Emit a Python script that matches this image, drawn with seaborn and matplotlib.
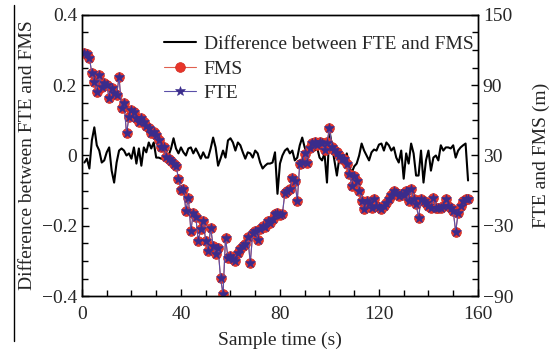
import numpy as np
import pandas as pd
import matplotlib
matplotlib.use("Agg")
import matplotlib.pyplot as plt
from matplotlib.ticker import MultipleLocator
import seaborn as sns

# sample time (s)
sample_time = list(range(1, 157))

# FMS (m), right axis
fms = [117.4, 116.6, 113.1, 100.3, 92.6, 84.0, 98.6, 88.3, 91.7, 90.0,
       78.9, 87.4, 83.1, 81.4, 96.9, 70.3, 74.6, 48.9, 62.6, 68.6,
       66.9, 61.7, 58.3, 61.7, 58.3, 54.9, 53.1, 48.9, 49.7, 47.1,
       42.9, 36.9, 36.9, 28.3, 27.4, 25.7, 23.1, 21.4, 10.3, 0.9,
       1.7, -17.1, -6.0, -34.3, -18.9, -22.3, -42.9, -32.6, -25.7, -42.9,
       -51.4, -31.7, -47.1, -54.0, -48.9, -74.6, -88.3, -40.3, -57.4, -55.7,
       -58.3, -60.0, -53.1, -49.7, -47.1, -45.4, -39.4, -61.7, -36.0, -34.3,
       -42.0, -32.6, -30.0, -30.9, -25.7, -27.4, -24.0, -19.7, -18.9, -20.6,
       -19.7, -1.7, 0.0, 1.7, 11.1, 8.6, -8.6, 23.1, 24.0, 31.7,
       24.0, 36.0, 40.3, 41.1, 38.6, 41.1, 40.3, 34.3, 41.1, 53.1,
       36.9, 34.3, 32.6, 30.0, 27.4, 27.4, 23.1, 14.6, 4.3, 12.9,
       8.6, 0.0, -8.6, -15.4, -8.6, -10.3, -14.6, -6.9, -12.9, -13.7,
       -15.4, -12.9, -10.3, -6.9, -3.4, 0.0, -1.7, -4.3, -2.6, -3.4,
       0.0, -8.6, 1.7, -6.9, -11.1, -23.1, -6.9, -8.6, -10.3, -12.9,
       -14.6, -6.0, -14.6, -14.6, -14.6, -12.9, -6.9, -12.9, -14.6, -17.1,
       -35.1, -18.9, -12.9, -8.6, -6.9, -6.9]

# difference between FTE and FMS, left axis
diff = [-0.020, -0.009, -0.037, 0.043, 0.080, 0.029, 0.014, -0.020, -0.014, 0.009,
        0.023, -0.043, -0.077, -0.020, 0.014, 0.020, 0.014, 0.000, 0.006, -0.009,
        0.023, -0.023, 0.020, -0.029, 0.023, 0.009, 0.037, 0.020, 0.037, -0.006,
        -0.006, -0.009, -0.009, -0.009, 0.000, 0.020, 0.049, 0.020, 0.006, 0.023,
        0.009, 0.000, 0.020, 0.023, 0.006, 0.020, 0.006, -0.009, 0.009, -0.006,
        -0.006, 0.020, 0.051, 0.023, -0.029, -0.009, 0.014, -0.006, 0.043, 0.049,
        0.037, 0.014, 0.037, 0.029, 0.009, -0.009, 0.009, 0.006, -0.006, 0.014,
        0.006, -0.020, -0.037, -0.029, -0.023, -0.023, -0.020, 0.009, -0.109, -0.023,
        0.000, 0.014, 0.020, 0.006, 0.014, -0.014, -0.006, 0.029, 0.051, 0.023,
        0.006, 0.034, 0.023, 0.014, 0.023, -0.006, -0.014, 0.006, -0.077, 0.071,
        0.029, -0.014, -0.057, -0.006, -0.014, -0.029, 0.006, -0.031, -0.049, -0.031,
        -0.023, 0.000, 0.034, 0.014, 0.000, -0.014, 0.009, 0.017, 0.014, 0.031,
        0.034, 0.014, 0.037, 0.029, 0.014, 0.023, -0.006, -0.020, 0.014, -0.066,
        0.006, -0.023, 0.034, 0.006, -0.057, -0.057, 0.014, -0.077, -0.014, 0.014,
        -0.043, -0.006, 0.000, -0.014, 0.029, 0.014, 0.023, 0.023, 0.020, 0.029,
        -0.006, 0.014, 0.023, 0.029, 0.034, -0.071]

df = pd.DataFrame({"t": sample_time, "fms": fms, "diff": diff})
df["fte"] = df["fms"] + df["diff"]

sns.set_theme(style="ticks")
plt.rcParams["font.family"] = ["Liberation Serif", "DejaVu Serif"]

fs = 14
fig = plt.figure(figsize=(5.5, 3.53), dpi=100)
ax = fig.add_axes([0.149, 0.161, 0.720, 0.797])
ax2 = ax.twinx()

sns.lineplot(data=df, x="t", y="diff", ax=ax, color="black", linewidth=1.5,
             label="Difference between FTE and FMS")
sns.lineplot(data=df, x="t", y="fms", ax=ax2, color="#e0604f", linewidth=0.8,
             marker="o", markersize=7, markerfacecolor="#e8352a",
             markeredgecolor="#d02a20", markeredgewidth=0.5, label="FMS")
sns.lineplot(data=df, x="t", y="fte", ax=ax2, color="#5a4fa8", linewidth=0.8,
             marker="*", markersize=7, markerfacecolor="#3a2c8c",
             markeredgecolor="#3a2c8c", markeredgewidth=0.4, label="FTE")

ax.set_xlim(0, 160)
ax.set_ylim(-0.4, 0.4)
ax2.set_ylim(-90, 150)

ax.xaxis.set_major_locator(MultipleLocator(40))
ax.xaxis.set_minor_locator(MultipleLocator(10))
ax.yaxis.set_minor_locator(MultipleLocator(0.05))
ax2.yaxis.set_minor_locator(MultipleLocator(15))
ax.set_yticks([-0.4, -0.2, 0, 0.2, 0.4])
ax.set_yticklabels(["\u22120.4", "\u22120.2", "0", "0.2", "0.4"])
ax2.set_yticks([-90, -30, 30, 90, 150])
ax2.set_yticklabels(["\u221290", "\u221230", "30", "90", "150"])

for a in (ax, ax2):
    a.tick_params(which="major", direction="in", length=5, width=1, labelsize=fs, color="black")
    a.tick_params(which="minor", direction="in", length=4, width=1, color="black")
    for s in a.spines.values():
        s.set_color("black")
        s.set_linewidth(1.0)
ax.tick_params(axis="x", pad=7)

ax.set_xlabel("Sample time (s)", fontsize=fs, labelpad=6)
ax.set_ylabel("Difference between FTE and FMS", fontsize=fs, labelpad=4)
ax2.set_ylabel("FTE and FMS (m)", fontsize=fs, labelpad=14)

h1, l1 = ax.get_legend_handles_labels()
h2, l2 = ax2.get_legend_handles_labels()
ax.get_legend().remove()
ax2.legend(h1 + h2, l1 + l2, loc="upper left", bbox_to_anchor=(0.298, 0.90),
           bbox_transform=fig.transFigure, frameon=False, fontsize=fs,
           handlelength=1.65, labelspacing=0.36, borderaxespad=0, borderpad=0,
           handletextpad=0.4)

# thin vertical rule at the far left of the source figure
fig.add_artist(plt.Line2D([0.026, 0.026], [0.035, 0.985], color="black", linewidth=1.0,
                          transform=fig.transFigure))

fig.savefig("out.png", dpi=100)
